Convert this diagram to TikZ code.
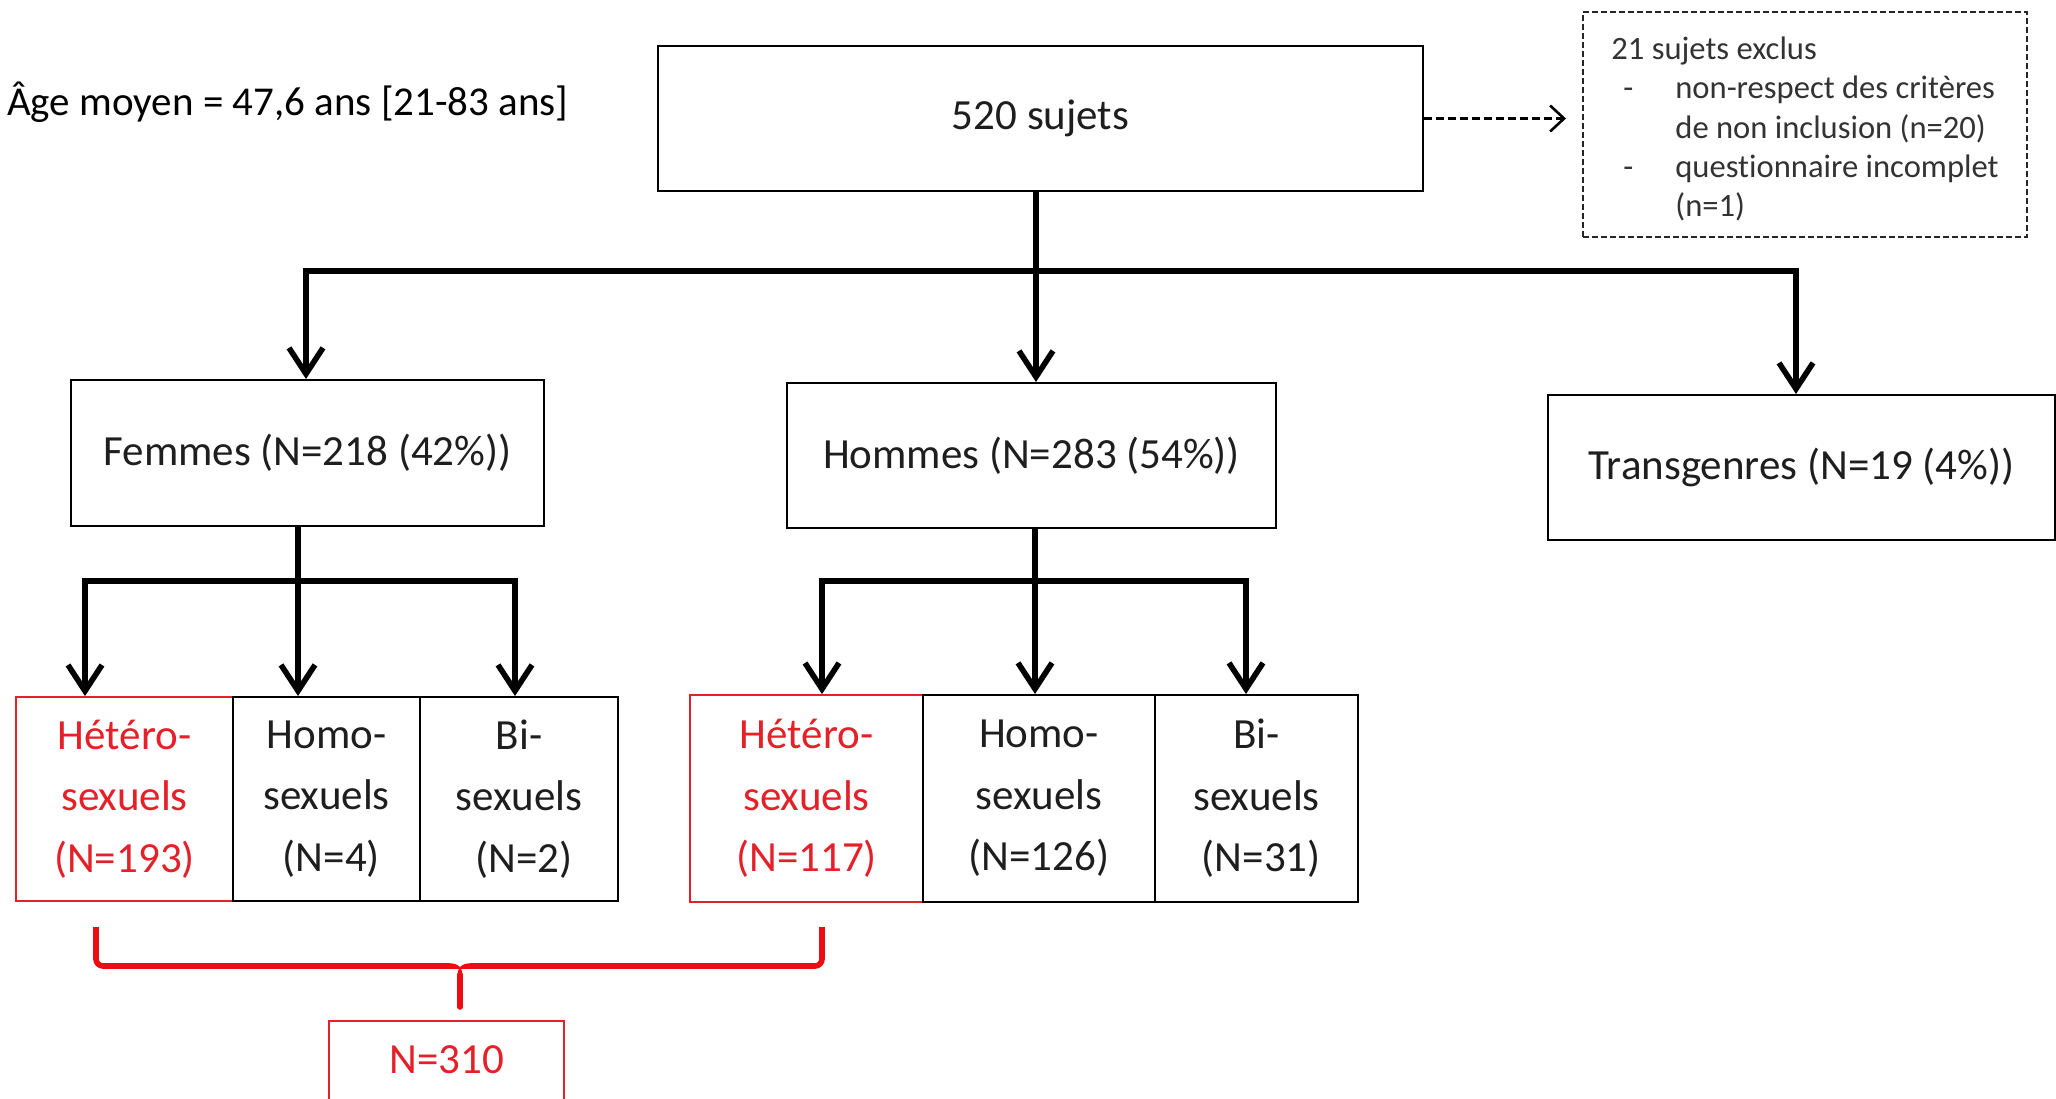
\documentclass[tikz,border=0pt]{standalone}
\usepackage{fontspec}
\setmainfont{Carlito}[Ligatures=NoCommon]
\usetikzlibrary{arrows.meta}
\definecolor{myred}{RGB}{228,32,40}
\definecolor{brred}{RGB}{236,12,18}
\definecolor{txt}{RGB}{30,30,30}
\begin{document}
\begin{tikzpicture}[x=1pt,y=-1pt,
  box/.style={draw=black, line width=2pt, inner sep=0pt, text=txt,
    font=\fontsize{43}{61.6}\selectfont, align=center},
  redbox/.style={box, draw=myred, text=myred, line width=1.8pt},
  bar/.style={line width=5.6pt, line cap=rect},
  conn/.style={line width=5.6pt, -{Straight Barb[length=26pt,width=34pt,line width=5.6pt]}},
  dconn/.style={line width=2.6pt, dash pattern=on 8pt off 4pt,
    -{Straight Barb[length=14pt,width=26pt,line width=2.6pt]}},
  brace/.style={line width=5.6pt, draw=brred, rounded corners=7pt}]
\useasboundingbox (0,0) rectangle (2056,1098);
\fill[white] (0,0) rectangle (2056,1098);

% header text
\node[anchor=west, inner sep=0pt, text=black, font=\fontsize{41}{50}\selectfont] (age) at (7,102) {Âge moyen = 47,6 ans [21-83 ans]};

% top box
\node[box, minimum width=765pt, minimum height=145pt] (top) at (1040.5,118.5) {520 sujets};

% excluded box
\node[draw=black!85, line width=2pt, dash pattern=on 6pt off 3pt,
  minimum width=444pt, minimum height=225pt, inner sep=0pt] (excl) at (1805,124.5) {};
\node[inner sep=0pt, text=black!80, align=left,
  font=\fontsize{32.6}{39.4}\selectfont] (excltxt) at (1805,129)
  {21 sujets exclus\\
   \makebox[64pt][l]{\hspace{12pt}-}non-respect des critères\\
   \hspace*{64pt}de non inclusion (n=20)\\
   \makebox[64pt][l]{\hspace{12pt}-}questionnaire incomplet\\
   \hspace*{64pt}(n=1)};

% second level
\node[box, minimum width=473pt, minimum height=146pt] (fem) at (307.5,453) {Femmes (N=218 (42\%))};
\node[box, minimum width=489pt, minimum height=145pt] (hom) at (1031.5,455.5) {Hommes (N=283 (54\%))};
\node[box, minimum width=507pt, minimum height=145pt] (tra) at (1801.5,467.5) {Transgenres (N=19 (4\%))};

% third level, femmes
\node[redbox, minimum width=217pt, minimum height=204pt] (het1) at (124.5,799) {Hétéro-\\sexuels\\(N=193)};
\node[box, minimum width=187pt, minimum height=204pt] (homo1) at (326.5,799) {Homo-\\sexuels\\\ (N=4)};
\node[box, minimum width=198pt, minimum height=204pt] (bi1) at (519,799) {Bi-\\sexuels\\\ (N=2)};

% third level, hommes
\node[redbox, minimum width=233pt, minimum height=207pt] (het2) at (806.5,798.5) {Hétéro-\\sexuels\\(N=117)};
\node[box, minimum width=232pt, minimum height=207pt] (homo2) at (1039,798.5) {Homo-\\sexuels\\(N=126)};
\node[box, minimum width=203pt, minimum height=207pt] (bi2) at (1256.5,798.5) {Bi-\\sexuels\\\ (N=31)};

% total
\node[redbox, minimum width=235pt, minimum height=100pt, anchor=north] (total) at (446.5,1020) {};
\node[inner sep=0pt, text=myred, font=\fontsize{43}{50}\selectfont] (totaltxt) at (446.5,1060) {N=310};

% connectors level 1
\coordinate (j1) at (1036,271);
\draw[line width=5.6pt] ([xshift=-4.5pt]top.south) -- (j1);
\coordinate (a0) at (306,271);
\coordinate (b0) at (1036,271);
\coordinate (c0) at (1796,271);
\draw[bar] (a0) -- (c0);
\draw[conn] (a0) -- (a0 |- fem.north);
\draw[conn] (b0) -- (b0 |- hom.north);
\draw[conn] (c0) -- (c0 |- tra.north);

% dashed exclusion arrow
\draw[dconn, shorten >=16pt] (top.east) -- (top.east -| excl.west);

% femmes branch
\coordinate (fj) at (298,581);
\draw[line width=5.6pt] (fem.south -| fj) -- (fj);
\coordinate (f1) at (85,581);
\coordinate (f2) at (298,581);
\coordinate (f3) at (515,581);
\draw[bar] (f1) -- (f3);
\draw[conn] (f1) -- (f1 |- het1.north);
\draw[conn] (f2) -- (f2 |- homo1.north);
\draw[conn] (f3) -- (f3 |- bi1.north);

% hommes branch
\coordinate (hj) at (1035,581);
\draw[line width=5.6pt] (hom.south -| hj) -- (hj);
\coordinate (h1) at (822,581);
\coordinate (h2) at (1035,581);
\coordinate (h3) at (1246,581);
\draw[bar] (h1) -- (h3);
\draw[conn] (h1) -- (h1 |- het2.north);
\draw[conn] (h2) -- (h2 |- homo2.north);
\draw[conn] (h3) -- (h3 |- bi2.north);

% red brace
\coordinate (bl) at (96,927);
\coordinate (br) at (822,927);
\coordinate (bm) at (460,966);
\draw[brace] (bl) -- (bl |- bm) -- (450,966);
\draw[brace] (br) -- (br |- bm) -- (470,966);
\fill[brred] (448,963.2) .. controls (458,963.2) and (463,966) .. (463,980)
  -- (457,980) .. controls (457,966) and (462,963.2) .. (472,963.2) -- (472,968.8)
  -- (448,968.8) -- cycle;
\draw[line width=5.6pt, brred, line cap=round, shorten >=13pt] (460,975) -- (bm |- total.north);
\end{tikzpicture}
\end{document}
